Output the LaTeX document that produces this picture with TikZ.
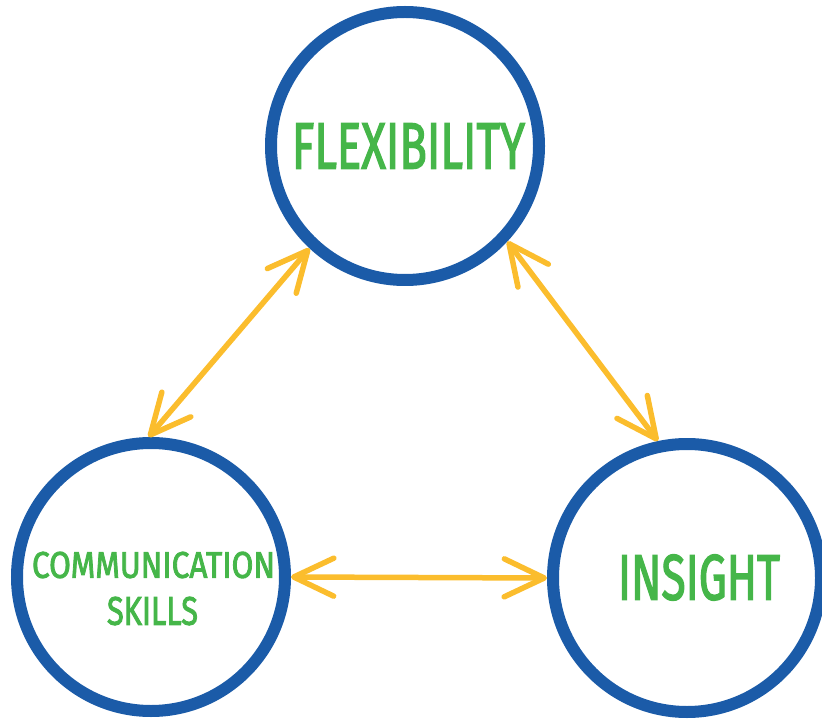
\documentclass[tikz,border=0pt]{standalone}
\usepackage{fontspec}
\usepackage{graphicx}
\setmainfont{Fira Sans}
\newfontfamily\medfont[FakeBold=2.5]{Fira Sans}
\usetikzlibrary{arrows.meta}
\definecolor{ringblue}{HTML}{1B5BA8}
\definecolor{textgreen}{HTML}{45B649}
\definecolor{arrowyellow}{HTML}{FBBD2D}
\tikzset{
  ring/.style={circle, draw=ringblue, line width=12pt, minimum size=268pt, inner sep=0pt},
  label/.style={inner sep=0pt, outer sep=0pt, text=textgreen, anchor=center, font=\medfont},
  biarrow/.style={draw=arrowyellow, line width=5.5pt, line cap=round,
    arrows={Straight Barb[length=40pt,width=38pt,round]-Straight Barb[length=40pt,width=38pt,round]}}
}
\begin{document}
\begin{tikzpicture}[x=1pt,y=-1pt]
\useasboundingbox (0,0) rectangle (822,719);
\node[ring] (flex) at (405,146) {};
\node[ring] (comm) at (151,577) {};
\node[ring] (ins) at (687,578) {};
\node[label] (tflex) at (408.5,146) {\resizebox{233pt}{45pt}{FLEXIBILITY}};
\node[label] (tins) at (699,577.5) {\resizebox{162pt}{45pt}{INSIGHT}};
\node[label] (tcomm) at (153.5,565) {\resizebox{243pt}{26pt}{COMMUNICATION}};
\node[label] (tskills) at (152.5,611) {\resizebox{91pt}{28pt}{SKILLS}};
\draw[biarrow] (flex.227.7) -- (comm.91);
\draw[biarrow] (flex.317.6) -- (ins.102.7);
\draw[biarrow] (comm.0) -- (ins.180);
\end{tikzpicture}
\end{document}
